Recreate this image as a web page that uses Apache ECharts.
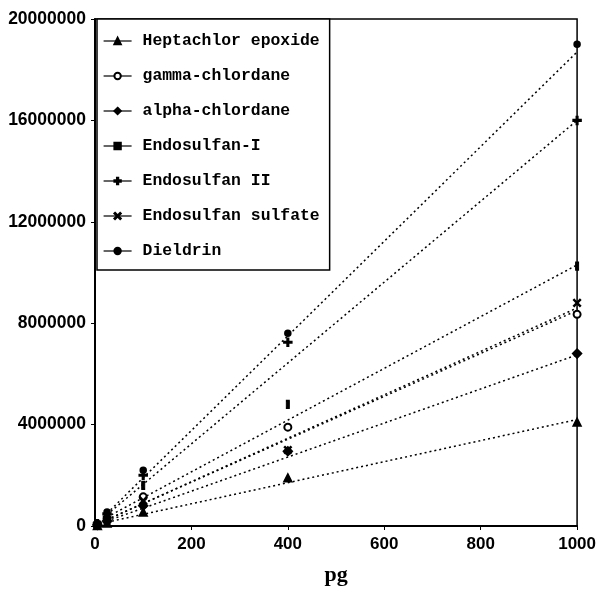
<!DOCTYPE html>
<html>
<head>
<meta charset="utf-8">
<script src="https://cdn.jsdelivr.net/npm/echarts@6/dist/echarts.min.js"></script>
<style>html,body{margin:0;padding:0;background:#fff}#c{width:599px;height:591px}</style>
</head>
<body>
<div id="c"></div>
<script>
// ---- data ----
const seriesNames = ["Heptachlor epoxide", "gamma-chlordane", "alpha-chlordane", "Endosulfan-I", "Endosulfan II", "Endosulfan sulfate", "Dieldrin"];
const amounts = [5, 25, 100, 400, 1000]; // pg
const heptachlorEpoxide = [20000, 120000, 550000, 1900000, 4100000];
const gammaChlordane   = [50000, 300000, 1150000, 3900000, 8350000];
const alphaChlordane   = [40000, 200000, 800000, 2950000, 6800000];
const endosulfanI      = [70000, 400000, 1600000, 4800000, 10250000];
const endosulfanII     = [90000, 480000, 2000000, 7250000, 16000000];
const endosulfanSulfate= [50000, 250000, 1000000, 3000000, 8800000];
const dieldrin         = [100000, 550000, 2200000, 7600000, 19000000];
// regression line end points (at fitX[0], fitX[1])
const fitX = [25, 1000];
const fitHeptachlor = [150000, 4200000];
const fitGamma      = [250000, 8500000];
const fitAlpha      = [200000, 6750000];
const fitEndoI      = [350000, 10300000];
const fitEndoII     = [450000, 16000000];
const fitSulfate    = [250000, 8600000];
const fitDieldrin   = [500000, 18700000];
const xTicks = [0, 200, 400, 600, 800, 1000];
const yTicks = [0, 4000000, 8000000, 12000000, 16000000, 20000000];

const values = [heptachlorEpoxide, gammaChlordane, alphaChlordane, endosulfanI, endosulfanII, endosulfanSulfate, dieldrin];
const fits = [fitHeptachlor, fitGamma, fitAlpha, fitEndoI, fitEndoII, fitSulfate, fitDieldrin];

const plusPath = 'path://M4,0L6,0L6,4L10,4L10,6L6,6L6,10L4,10L4,6L0,6L0,4L4,4Z';
const xPath = 'path://M1,0L5,4L9,0L10,1L6,5L10,9L9,10L5,6L1,10L0,9L4,5L0,1Z';
const symbols = [
  ['triangle', 8],
  ['emptyCircle', 7],
  ['diamond', 9],
  ['rect', [3, 7]],
  [plusPath, 8],
  [xPath, 7],
  ['circle', 6]
];

const series = [];
seriesNames.forEach((name, i) => {
  series.push({
    name: name,
    type: 'line',
    data: amounts.map((a, j) => [a, values[i][j]]),
    symbol: symbols[i][0],
    symbolSize: symbols[i][1],
    showSymbol: true,
    itemStyle: { color: '#000', borderColor: '#000', borderWidth: 1.5 },
    lineStyle: { width: 0, opacity: 0 },
    z: 5
  });
  series.push({
    name: name + ' fit',
    type: 'line',
    data: fitX.map((x, j) => [x, fits[i][j]]),
    symbol: 'none',
    lineStyle: { color: '#000', width: 1.5, type: [2, 3] },
    silent: true,
    z: 3
  });
});

const chart = echarts.init(document.getElementById('c'));
chart.setOption({
  animation: false,
  backgroundColor: '#fff',
  grid: { left: 95, right: 20, top: 19, bottom: 60, show: true, borderColor: '#000', borderWidth: 1.5 },
  legend: {
    data: seriesNames,
    orient: 'vertical',
    left: 97,
    top: 19,
    backgroundColor: '#fff',
    borderColor: '#000',
    borderWidth: 1.5,
    padding: [14, 10, 11, 6],
    itemGap: 19,
    itemWidth: 28,
    itemHeight: 8,
    lineStyle: { type: 'solid', color: '#000', width: 1.2, opacity: 1 },
    itemStyle: { color: '#000', borderColor: '#000' },
    textStyle: { fontFamily: 'Liberation Mono', fontWeight: 'bold', fontSize: 16.4, color: '#000', padding: [0, 0, 0, 6] }
  },
  xAxis: {
    type: 'value',
    min: 0, max: 1000, interval: 200,
    name: 'pg',
    nameLocation: 'middle',
    nameGap: 38,
    nameTextStyle: { fontFamily: 'Liberation Serif', fontWeight: 'bold', fontSize: 22, color: '#000' },
    axisLine: { show: true, lineStyle: { color: '#000', width: 2 } },
    axisTick: { show: true, length: 4, lineStyle: { color: '#000' } },
    splitLine: { show: false },
    axisLabel: { color: '#000', fontFamily: 'Liberation Sans', fontWeight: 'bold', fontSize: 17, margin: 10,
      formatter: v => xTicks.includes(v) ? String(v) : '' }
  },
  yAxis: {
    type: 'value',
    min: 0, max: 20000000, interval: 4000000,
    axisLine: { show: true, lineStyle: { color: '#000', width: 2 } },
    axisTick: { show: true, length: 4, lineStyle: { color: '#000' } },
    splitLine: { show: false },
    axisLabel: { color: '#000', fontFamily: 'Liberation Sans', fontWeight: 'bold', fontSize: 17.5, margin: 9,
      formatter: v => yTicks.includes(v) ? String(v) : '' }
  },
  series: series
});
</script>
</body>
</html>
